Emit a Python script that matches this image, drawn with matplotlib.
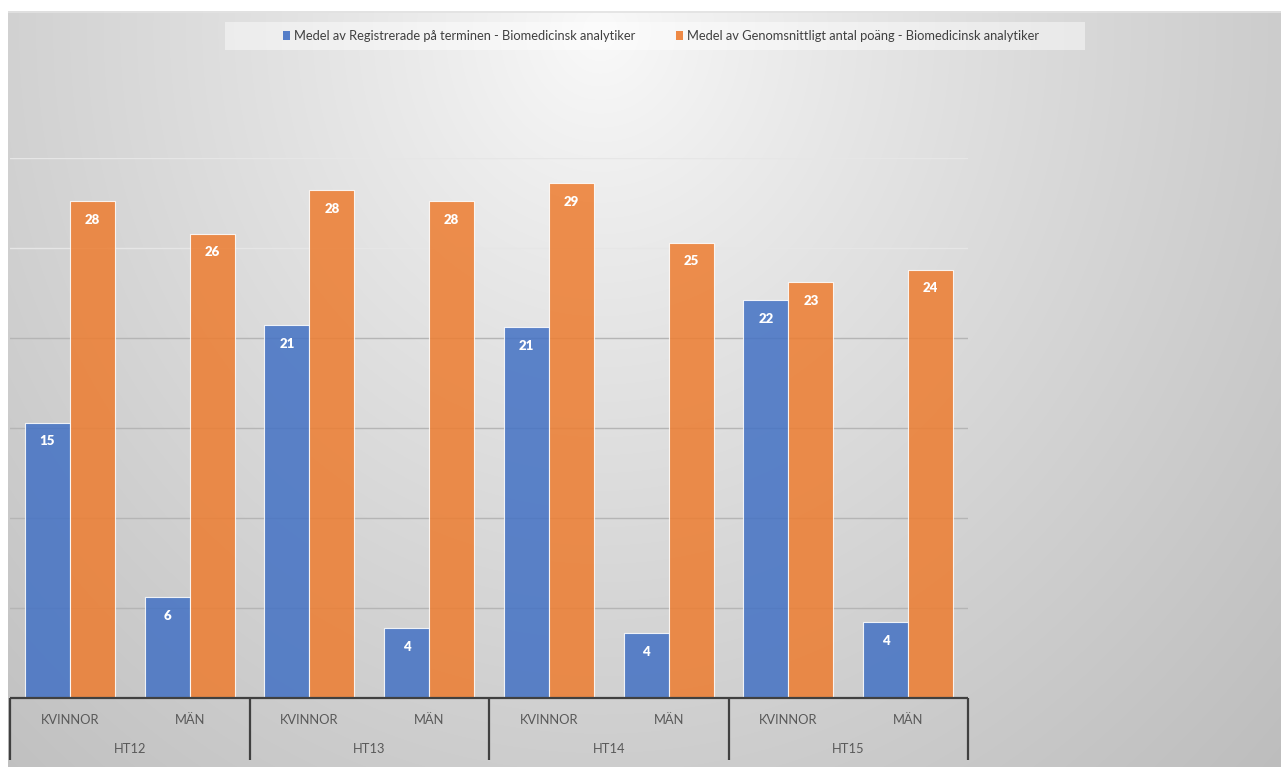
import numpy as np
import matplotlib
matplotlib.use("Agg")
import matplotlib.pyplot as plt
from matplotlib.patches import Patch, Rectangle

# ---- data ----
terms = ["HT12", "HT13", "HT14", "HT15"]
genders = ["KVINNOR", "MÄN"]
registrerade = [15.3, 5.6, 20.7, 3.9, 20.6, 3.6, 22.1, 4.2]
poang = [27.6, 25.8, 28.2, 27.6, 28.6, 25.3, 23.1, 23.8]
series_names = [
    "Medel av Registrerade på terminen - Biomedicinsk analytiker",
    "Medel av Genomsnittligt antal poäng - Biomedicinsk analytiker",
]

W, H = 1281, 767
DPI = 100
plt.rcParams["font.family"] = ["Lato", "DejaVu Sans"]

fig = plt.figure(figsize=(W / DPI, H / DPI), dpi=DPI)
fig.patch.set_facecolor("white")

# ---- soft radial background ----
bg_left, bg_top = 8, 11
bg = fig.add_axes([bg_left / W, 0, 1 - bg_left / W, (H - bg_top) / H], zorder=-10)
yy, xx = np.mgrid[bg_top:H, bg_left:W]
t = np.sqrt(((xx - 600) / 900.0) ** 2 + ((yy - 30) / 1000.0) ** 2)
t = np.clip(t, 0, 1.2)
g = (250 - 58 * t ** 0.85) / 255.0
img = np.dstack([g, g, g])
bg.imshow(img, aspect="auto", interpolation="bilinear")
bg.axhline(0, color="#e2e2e2", lw=1.2)
bg.set_axis_off()

# ---- main axes ----
x0, x1 = 10, 968
y_base, y_top = 698, 158
ax = fig.add_axes([x0 / W, (H - y_base) / H, (x1 - x0) / W, (y_base - y_top) / H])
ax.set_facecolor("none")
ax.set_xlim(-0.5, 7.5)
ax.set_ylim(0, 30)
for s in ax.spines.values():
    s.set_visible(False)
ax.set_xticks([])
ax.set_yticks([])

# gridlines
for v in [5, 10, 15, 20]:
    ax.axhline(v, color="#b5b5b5", lw=1.0, zorder=1)
for v in [25, 30]:
    ax.axhline(v, color="#e6e6e6", lw=1.0, zorder=1)

n = len(registrerade)
x = np.arange(n)
bw = 0.376
blue = "#4472C4"
orange = "#ED7D31"
b1 = ax.bar(x - bw / 2, registrerade, bw, color=blue, alpha=0.86,
            edgecolor=(1, 1, 1, 0.55), linewidth=0.8, zorder=2)
b2 = ax.bar(x + bw / 2, poang, bw, color=orange, alpha=0.86,
            edgecolor=(1, 1, 1, 0.55), linewidth=0.8, zorder=2)

for bars, vals in [(b1, registrerade), (b2, poang)]:
    for rect, v in zip(bars, vals):
        ax.annotate(f"{v:.0f}", (rect.get_x() + rect.get_width() / 2, v),
                    xytext=(0, -13.5), textcoords="offset points",
                    ha="center", va="center", color="white",
                    fontsize=9.5, fontweight="heavy", zorder=4)

# ---- two-level category axis ----
px = 1.0 / (y_base - y_top)
tr = ax.get_xaxis_transform()
ax.plot([-0.5, 7.5], [0, 0], transform=tr, color="#404040", lw=1.6,
        clip_on=False, zorder=5, solid_capstyle="butt")
for xv in [-0.5, 1.5, 3.5, 5.5, 7.5]:
    ax.plot([xv, xv], [0, -62 * px], transform=tr, color="#404040", lw=1.6,
            clip_on=False, zorder=5, solid_capstyle="butt")
for i in range(n):
    ax.text(i, -22 * px, genders[i % 2], transform=tr, ha="center", va="center",
            fontsize=9.3, color="#595959")
for j, term in enumerate(terms):
    ax.text(2 * j + 0.5, -51 * px, term, transform=tr, ha="center", va="center",
            fontsize=9.3, color="#595959")

# ---- legend ----
fig.patches.append(Rectangle((225 / W, 1 - 50 / H), 860 / W, 28 / H,
                             transform=fig.transFigure, facecolor="white",
                             alpha=0.45, edgecolor="none", zorder=0))
handles = [Patch(facecolor=blue, alpha=0.9), Patch(facecolor=orange, alpha=0.9)]
fig.legend(handles, series_names, loc="center",
           bbox_to_anchor=(661 / W, 1 - 36 / H), ncol=2, frameon=False,
           fontsize=9.3, handlelength=0.55, handleheight=0.6,
           handletextpad=0.35, columnspacing=3.1, labelcolor="#404040")

fig.savefig("out.png", dpi=DPI)
